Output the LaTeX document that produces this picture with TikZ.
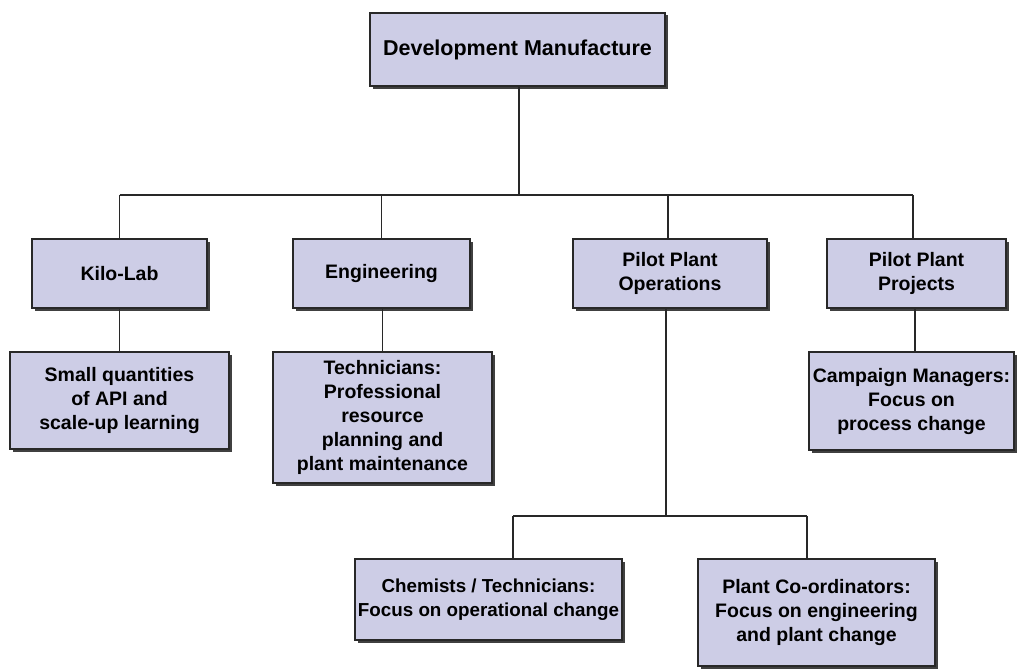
\documentclass[tikz,border=0pt]{standalone}
\usepackage{fontspec}
\setmainfont{Liberation Sans}
\usetikzlibrary{shadows}
\definecolor{boxfill}{RGB}{205,205,230}
\definecolor{edge}{RGB}{40,40,40}
\begin{document}
\begin{tikzpicture}[x=1pt,y=-1pt,
  orgbox/.style={draw=edge, line width=1.8pt, fill=boxfill, align=center,
    inner sep=0pt, font=\fontsize{19.5}{24}\selectfont\bfseries,
    drop shadow={shadow xshift=2.5pt, shadow yshift=-2.5pt, fill=black!75, opacity=1}},
  link/.style={draw=edge, line width=1.8pt}]
\useasboundingbox (0,0) rectangle (1017,669);
\fill[white] (0,0) rectangle (1017,669);

\node[orgbox, minimum width=295pt, minimum height=73pt, font=\fontsize{21.5}{26}\selectfont\bfseries] (dev) at (517.5,49.5) {Development Manufacture};

\node[orgbox, minimum width=175pt, minimum height=69pt] (kilo) at (119.5,273.5) {Kilo-Lab};
\node[orgbox, minimum width=177pt, minimum height=69pt] (eng) at (381.5,273.5) {Engineering};
\node[orgbox, minimum width=194pt, minimum height=69pt] (ops) at (670,273.5) {Pilot Plant\\Operations};
\node[orgbox, minimum width=179pt, minimum height=69pt] (proj) at (916.5,273.5) {Pilot Plant\\Projects};

\node[orgbox, minimum width=219pt, minimum height=97pt] (kchild) at (119.5,400.5) {Small quantities\\of API and\\scale-up learning};
\node[orgbox, minimum width=219pt, minimum height=131pt] (echild) at (382.5,417.5) {Technicians:\\Professional\\resource\\planning and\\plant maintenance};
\node[orgbox, minimum width=205pt, minimum height=98pt] (pchild) at (911.5,401) {Campaign Managers:\\Focus on\\process change};

\node[orgbox, minimum width=267pt, minimum height=81pt, font=\fontsize{18.8}{24}\selectfont\bfseries] (chem) at (488.5,599.5) {Chemists / Technicians:\\Focus on operational change};
\node[orgbox, minimum width=237pt, minimum height=107pt] (plantco) at (816.5,612.5) {Plant Co-ordinators:\\Focus on engineering\\and plant change};

% bus coordinates
\coordinate (devbus) at (519,195);
\coordinate (kilobus) at (119.5,195);
\coordinate (engbus) at (381.5,195);
\coordinate (opsbus) at (668,195);
\coordinate (projbus) at (913,195);
\coordinate (opsdown) at (666,516);
\coordinate (chembus) at (513,516);
\coordinate (plantbus) at (807,516);

\draw[link] (dev.south -| devbus) -- (devbus);
\draw[link] (kilobus) -- (projbus);
\draw[link] (kilobus) -- (kilo.north -| kilobus);
\draw[link] (engbus) -- (eng.north -| engbus);
\draw[link] (opsbus) -- (ops.north -| opsbus);
\draw[link] (projbus) -- (proj.north -| projbus);

\draw[link] (kilo.south -| kilobus) -- (kchild.north -| kilobus);
\draw[link] (eng.south -| echild.north) -- (echild.north);
\draw[link] (proj.south -| 915,0) -- (pchild.north -| 915,0);

\draw[link] (ops.south -| opsdown) -- (opsdown);
\draw[link] (chembus) -- (plantbus);
\draw[link] (chembus) -- (chem.north -| chembus);
\draw[link] (plantbus) -- (plantco.north -| plantbus);
\end{tikzpicture}
\end{document}
